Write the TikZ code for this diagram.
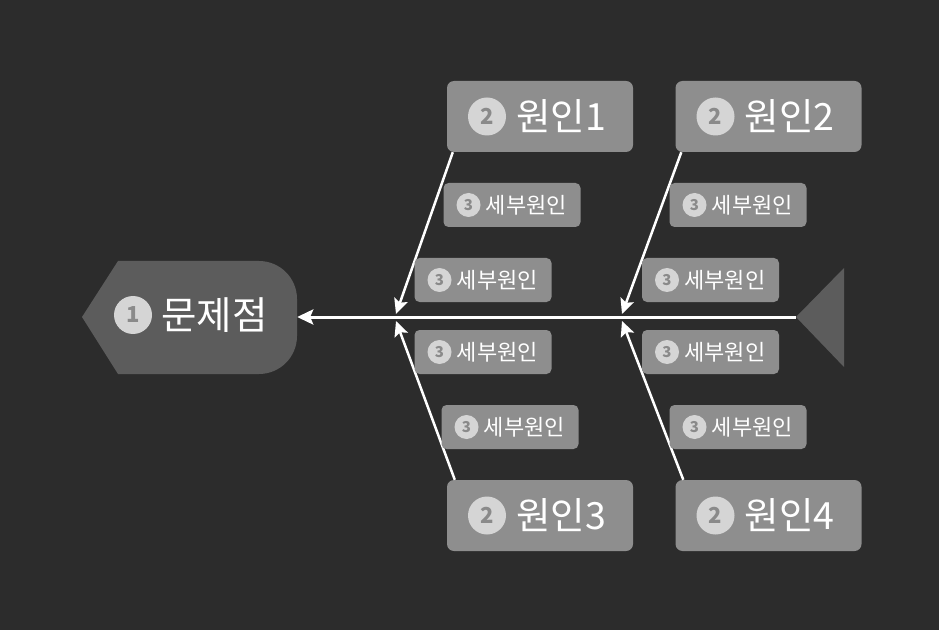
\documentclass[tikz,border=0pt]{standalone}
\usepackage{fontspec}
\setmainfont{Noto Sans CJK KR}
\usetikzlibrary{arrows.meta, positioning}
\definecolor{bgdark}{HTML}{2C2C2C}
\definecolor{headgray}{HTML}{5C5C5C}
\definecolor{boxgray}{HTML}{8E8E8E}
\definecolor{numfill}{HTML}{D5D5D5}
\definecolor{numtext}{HTML}{8A8A8A}

\begin{document}
\begin{tikzpicture}[x=1pt, y=1pt,
        every node/.style={inner sep=0pt},
        causebox/.style={fill=boxgray, rounded corners=7pt, minimum width=186pt, minimum height=71pt},
        subbox/.style={fill=boxgray, rounded corners=5pt, minimum width=137pt, minimum height=44pt},
        bignum/.style={circle, fill=numfill, text=numtext, minimum size=38pt, font=\fontsize{22}{24}\selectfont\bfseries},
        smallnum/.style={circle, fill=numfill, text=numtext, minimum size=24pt, font=\fontsize{15}{16}\selectfont\bfseries},
        headtxt/.style={text=white, font=\fontsize{38.5}{42}\selectfont},
        causetxt/.style={text=white, font=\fontsize{37.5}{42}\selectfont},
        subtxt/.style={text=white, font=\fontsize{22}{24}\selectfont},
        spine/.style={draw=white, line width=3pt, -{Stealth[length=16pt, width=15pt, inset=3pt]}},
        bone/.style={draw=white, line width=2.5pt, -{Stealth[length=15pt, width=14pt, inset=3pt]}}
    ]
    \fill[bgdark] (0,0) rectangle (939,630);
    \useasboundingbox (0,0) rectangle (939,630);

    % head
    \fill[headgray] (82,313) -- (118,369) -- (259,369) arc[start angle=90, end angle=0, radius=38]
        -- (297,294) arc[start angle=0, end angle=-90, radius=38] -- (118,256) -- cycle;
    \node[minimum width=215pt, minimum height=113pt] (head) at (189.5,313) {};
    \node[bignum] (n0) at (133,315) {1};
    \node[headtxt, right=9pt of n0] (t0) {문제점};

    % tail and spine
    \coordinate (tail) at (796,313);
    \fill[headgray] (tail) -- (844,362) -- (844,263) -- cycle;
    \draw[spine] (tail) -- (head.east);

    % causes
    \node[causebox] (c1) at (540,513.5) {};
    \node[causebox] (c2) at (768.5,513.5) {};
    \node[causebox] (c3) at (540,114.5) {};
    \node[causebox] (c4) at (768.5,114.5) {};
    \foreach \i in {1,...,4} {
        \node[bignum, right=21pt of c\i.west] (n\i) {2};
        \node[causetxt, right=10pt of n\i] (t\i) {원인\i};
    }

    % bones
    \coordinate (j1) at (396,316);
    \coordinate (j2) at (622,316);
    \coordinate (j3) at (396,309);
    \coordinate (j4) at (622,309);
    \draw[bone] ([xshift=6pt]c1.south west) -- (j1);
    \draw[bone] ([xshift=6pt]c2.south west) -- (j2);
    \draw[bone] ([xshift=8pt]c3.north west) -- (j3);
    \draw[bone] ([xshift=8pt]c4.north west) -- (j4);

    % sub causes
    \foreach \i/\x/\y in {1/512/425, 2/483/350, 3/483/278, 4/510/203,
                          5/738/425, 6/710.5/350, 7/710.5/278, 8/738/203} {
        \node[subbox] (s\i) at (\x,\y) {};
        \node[smallnum, right=13pt of s\i.west] (m\i) {3};
        \node[subtxt, right=5pt of m\i] (u\i) {세부원인};
    }
\end{tikzpicture}
\end{document}
